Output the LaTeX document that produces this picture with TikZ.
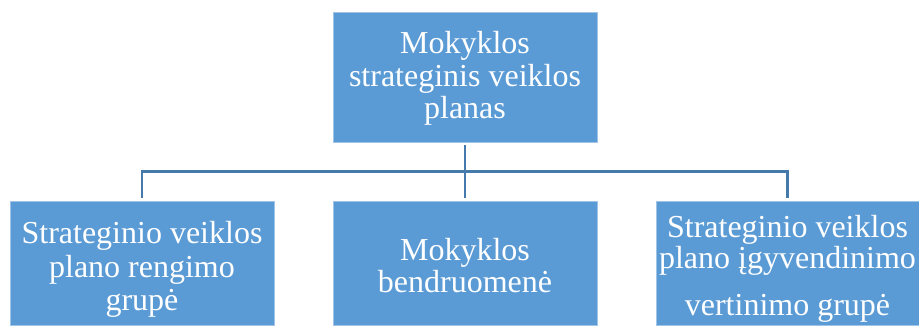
\documentclass[tikz,border=0pt]{standalone}
\usepackage{fontspec}
\setmainfont{Liberation Serif}
\definecolor{boxfill}{RGB}{91,155,213}
\definecolor{boxedge}{RGB}{160,196,230}
\definecolor{connblue}{RGB}{70,121,172}
\begin{document}
\begin{tikzpicture}[x=1pt,y=-1pt,
  box/.style={rectangle, fill=boxfill, draw=boxedge, line width=0.8pt, inner sep=0pt},
  conn/.style={draw=connblue, line width=2.7pt, line join=miter},
  txt/.style={anchor=base, inner sep=0pt, text=white, font=\fontsize{32}{33}\selectfont}]
\useasboundingbox (0,0) rectangle (919,325);
\fill[white] (0,0) rectangle (919,325);
% boxes
\node[box, minimum width=264pt, minimum height=130pt] (top) at (465,77) {};
\node[box, minimum width=264pt, minimum height=124pt] (left) at (142,263) {};
\node[box, minimum width=264pt, minimum height=124pt] (mid) at (465,263) {};
\node[box, minimum width=263pt, minimum height=124pt] (right) at (787.5,263) {};
% connectors
\coordinate (hub) at (465,171.3);
\draw[conn, shorten <=3pt, shorten >=2.5pt] (top.south) -- (mid.north);
\draw[conn, shorten <=2.5pt, shorten >=2.5pt] (left.north) |- (hub) -| (right.north);
% texts
\node[txt] (t1) at (465,53) {Mokyklos};
\node[txt] (t2) at (465,86) {strateginis veiklos};
\node[txt] (t3) at (465,118) {planas};
\node[txt] (l1) at (142,243) {Strateginio veiklos};
\node[txt] (l2) at (142,277) {plano rengimo};
\node[txt] (l3) at (142,310) {grupė};
\node[txt] (m1) at (465,260) {Mokyklos};
\node[txt] (m2) at (465,292) {bendruomenė};
\node[txt] (r1) at (787.5,237) {Strateginio veiklos};
\node[txt] (r2) at (787.5,268) {plano įgyvendinimo};
\node[txt] (r3) at (787.5,315) {vertinimo grupė};
\end{tikzpicture}
\end{document}
